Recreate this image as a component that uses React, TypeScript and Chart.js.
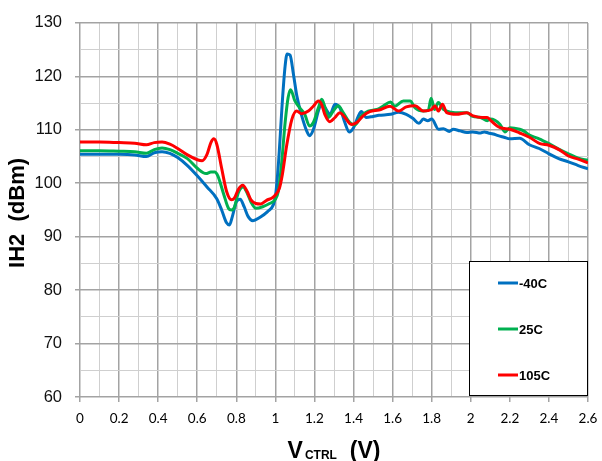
import React, { useEffect, useRef } from "react";
import { Chart, registerables } from "chart.js";

Chart.register(...registerables);

// ---- Data ----
const seriesLabels = ["-40C", "25C", "105C"];
const seriesColors = ["#0070C0", "#00B050", "#FF0000"];

const vctrlM40 = [0, 0.1, 0.2, 0.28, 0.34, 0.38, 0.42, 0.46, 0.5, 0.55, 0.6, 0.65, 0.7, 0.725, 0.75, 0.765, 0.78, 0.8, 0.82, 0.84, 0.86, 0.885, 0.92, 0.96, 0.99, 1.0, 1.01, 1.02, 1.035, 1.05, 1.06, 1.075, 1.092, 1.11, 1.135, 1.16, 1.175, 1.195, 1.22, 1.237, 1.255, 1.28, 1.305, 1.33, 1.355, 1.378, 1.4, 1.425, 1.44, 1.465, 1.5, 1.53, 1.59, 1.63, 1.67, 1.705, 1.735, 1.757, 1.78, 1.8, 1.835, 1.86, 1.89, 1.91, 1.945, 1.98, 2.01, 2.05, 2.07, 2.09, 2.115, 2.14, 2.17, 2.2, 2.25, 2.3, 2.35, 2.4, 2.45, 2.5, 2.55, 2.6];
const ih2M40 = [105.4, 105.4, 105.4, 105.3, 105.0, 105.7, 105.9, 105.6, 104.8, 103.3, 101.4, 99.3, 97.1, 95.0, 92.6, 92.2, 93.8, 96.5, 97.0, 95.6, 93.8, 93.0, 93.6, 94.7, 96.0, 97.5, 101.0, 106.0, 115.0, 122.0, 124.2, 124.0, 120.5, 116.3, 112.6, 109.8, 108.9, 110.1, 113.5, 115.0, 114.1, 112.9, 114.8, 114.1, 111.4, 109.6, 110.4, 112.6, 113.4, 112.3, 112.5, 112.7, 112.9, 113.3, 112.9, 112.1, 111.2, 112.0, 111.7, 112.0, 110.1, 110.2, 109.7, 110.1, 109.8, 109.5, 109.6, 109.4, 109.6, 109.4, 109.2, 108.9, 108.6, 108.3, 108.4, 107.2, 106.5, 105.5, 104.6, 104.0, 103.3, 102.7];

const vctrl25 = [0, 0.1, 0.2, 0.28, 0.34, 0.38, 0.42, 0.46, 0.5, 0.55, 0.6, 0.645, 0.67, 0.69, 0.705, 0.735, 0.76, 0.775, 0.79, 0.81, 0.835, 0.855, 0.875, 0.9, 0.935, 0.97, 1.0, 1.015, 1.03, 1.05, 1.065, 1.078, 1.1, 1.125, 1.15, 1.175, 1.195, 1.22, 1.237, 1.255, 1.272, 1.296, 1.322, 1.347, 1.38, 1.407, 1.44, 1.475, 1.52, 1.55, 1.59, 1.61, 1.655, 1.69, 1.715, 1.757, 1.783, 1.797, 1.815, 1.834, 1.86, 1.9, 1.945, 1.98, 2.01, 2.05, 2.085, 2.1, 2.15, 2.175, 2.2, 2.25, 2.27, 2.3, 2.35, 2.4, 2.455, 2.5, 2.55, 2.6];
const ih2_25 = [106.1, 106.1, 106.0, 105.9, 105.6, 106.3, 106.6, 106.3, 105.6, 104.6, 102.8, 101.8, 102.1, 102.1, 101.4, 98.0, 95.3, 95.0, 95.5, 98.2, 99.3, 98.2, 96.5, 95.3, 95.6, 96.2, 97.0, 98.5, 103.0, 111.4, 116.0, 117.5, 115.4, 114.1, 112.9, 110.7, 111.4, 114.1, 115.7, 114.1, 112.3, 113.5, 114.5, 113.2, 111.4, 110.9, 112.6, 113.5, 113.8, 114.4, 115.2, 114.4, 115.4, 115.4, 114.1, 113.5, 113.7, 115.9, 113.8, 115.1, 113.8, 113.3, 113.2, 113.2, 112.5, 112.3, 111.7, 112.0, 111.0, 109.6, 110.4, 110.1, 109.8, 109.0, 108.3, 107.4, 106.3, 105.5, 104.7, 104.3];

const vctrl105 = [0, 0.1, 0.2, 0.28, 0.34, 0.38, 0.42, 0.46, 0.5, 0.55, 0.6, 0.625, 0.65, 0.67, 0.685, 0.7, 0.725, 0.75, 0.775, 0.79, 0.81, 0.833, 0.855, 0.875, 0.9, 0.925, 0.955, 0.985, 1.0, 1.02, 1.035, 1.058, 1.084, 1.109, 1.134, 1.169, 1.194, 1.22, 1.236, 1.253, 1.279, 1.305, 1.33, 1.356, 1.388, 1.415, 1.449, 1.483, 1.53, 1.587, 1.63, 1.67, 1.715, 1.757, 1.8, 1.817, 1.834, 1.855, 1.877, 1.927, 1.98, 2.013, 2.06, 2.084, 2.1, 2.15, 2.2, 2.25, 2.3, 2.354, 2.4, 2.456, 2.5, 2.55, 2.6];
const ih2_105 = [107.7, 107.7, 107.6, 107.5, 107.2, 107.6, 107.7, 107.3, 106.5, 105.3, 104.4, 104.2, 105.4, 107.6, 108.3, 107.3, 102.8, 98.5, 96.9, 97.2, 98.8, 99.6, 98.5, 96.9, 96.2, 96.1, 96.8, 97.3, 97.8, 99.0, 101.5, 107.1, 111.9, 113.5, 113.0, 113.5, 114.4, 115.4, 114.8, 112.9, 111.5, 112.3, 113.2, 112.3, 111.0, 111.3, 112.6, 113.4, 113.7, 114.4, 113.5, 114.3, 114.5, 113.5, 113.8, 114.5, 113.5, 114.8, 113.2, 112.9, 113.2, 112.6, 112.3, 112.3, 111.8, 110.4, 110.1, 109.4, 108.6, 107.4, 107.1, 106.2, 105.1, 104.5, 103.8];

const xMin = 0;
const xMax = 2.6;
const yMin = 60;
const yMax = 130;
const xTitleMain = "V";
const xTitleSub = "CTRL";
const xTitleUnit = "  (V)";
const yTitle = "IH2  (dBm)";

const toPoints = (xs: number[], ys: number[]) => xs.map((x, i) => ({ x, y: ys[i] }));

const isMajorX = (v: number) => Math.round(v * 10) % 2 === 0;
const isMajorY = (v: number) => Math.round(v) % 10 === 0;

const annotationsPlugin = {
  id: "customDecor",
  afterDraw(chart: any) {
    const ctx = chart.ctx as CanvasRenderingContext2D;
    const area = chart.chartArea;
    ctx.save();
    // Legend box
    const bx = 469, by = 261, bw = area.right - 469, bh = area.bottom - 1 - 261;
    ctx.fillStyle = "#ffffff";
    ctx.fillRect(bx, by, bw, bh);
    ctx.strokeStyle = "#000000";
    ctx.lineWidth = 1;
    ctx.strokeRect(bx + 0.5, by + 0.5, bw - 1, bh - 1);
    const itemsY = [283, 329, 375];
    const ds = chart.data.datasets;
    const order = [0, 1, 2];
    order.forEach((di, k) => {
      const d = ds[di];
      ctx.strokeStyle = d.borderColor;
      ctx.lineWidth = 3;
      ctx.beginPath();
      ctx.moveTo(498, itemsY[k]);
      ctx.lineTo(518, itemsY[k]);
      ctx.stroke();
      ctx.fillStyle = "#000";
      ctx.font = "bold 13px 'Liberation Sans', Arial, sans-serif";
      ctx.textBaseline = "middle";
      ctx.textAlign = "left";
      ctx.fillText(d.label, 519, itemsY[k] + 1);
    });

    // Y title
    ctx.save();
    ctx.translate(18, (area.top + area.bottom) / 2 + 3);
    ctx.rotate(-Math.PI / 2);
    ctx.font = "bold 22px 'Liberation Sans', Arial, sans-serif";
    ctx.textAlign = "center";
    ctx.textBaseline = "middle";
    ctx.fillStyle = "#000";
    ctx.fillText(yTitle, 0, 0);
    ctx.restore();

    // X title with subscript
    const bigFont = "bold 23px 'Liberation Sans', Arial, sans-serif";
    const smallFont = "bold 12px 'Liberation Sans', Arial, sans-serif";
    ctx.font = bigFont;
    const wV = ctx.measureText(xTitleMain).width;
    const wU = ctx.measureText(xTitleUnit).width;
    ctx.font = smallFont;
    const wS = ctx.measureText(xTitleSub).width;
    const gap = 2;
    const total = wV + gap + wS + wU;
    const cx = (area.left + area.right) / 2;
    let x0 = cx - total / 2;
    const base = 458;
    ctx.textAlign = "left";
    ctx.textBaseline = "alphabetic";
    ctx.fillStyle = "#000";
    ctx.font = bigFont;
    ctx.fillText(xTitleMain, x0, base);
    x0 += wV + gap;
    ctx.font = smallFont;
    ctx.fillText(xTitleSub, x0, base + 1);
    x0 += wS;
    ctx.font = bigFont;
    ctx.fillText(xTitleUnit, x0, base);
    ctx.restore();
  },
};

export default function App() {
  const canvasRef = useRef<HTMLCanvasElement | null>(null);

  useEffect(() => {
    if (!canvasRef.current) return;
    const data = [
      toPoints(vctrlM40, ih2M40),
      toPoints(vctrl25, ih2_25),
      toPoints(vctrl105, ih2_105),
    ];
    const chart = new Chart(canvasRef.current, {
      type: "line",
      data: {
        datasets: data.map((pts, i) => ({
          label: seriesLabels[i],
          data: pts,
          borderColor: seriesColors[i],
          backgroundColor: seriesColors[i],
          borderWidth: 3,
          pointRadius: 0,
          fill: false,
          cubicInterpolationMode: "monotone" as const,
          order: 3 - i,
        })),
      },
      options: {
        responsive: false,
        maintainAspectRatio: false,
        animation: false,
        devicePixelRatio: 1,
        layout: { padding: { top: 15, right: 14, left: 0, bottom: 0 } },
        plugins: {
          legend: { display: false },
          tooltip: { enabled: false },
          title: { display: false },
        },
        scales: {
          x: {
            type: "linear",
            min: xMin,
            max: xMax,
            afterFit: (scale: any) => {
              scale.height = 64;
              scale.paddingRight = 0;
            },
            afterBuildTicks: (scale: any) => {
              const t = [];
              for (let i = 0; i <= 26; i++) t.push({ value: i / 10 });
              scale.ticks = t;
            },
            ticks: {
              autoSkip: false,
              maxRotation: 0,
              padding: 9,
              color: "#000",
              font: { family: "Lato, 'Liberation Sans', sans-serif", size: 13.5 },
              callback: (v: any) => (isMajorX(Number(v)) ? String(Math.round(Number(v) * 10) / 10) : ""),
            },
            grid: {
              color: (c: any) => (isMajorX(c.tick.value) ? "#a3a3a3" : "#cfcfcf"),
              lineWidth: (c: any) => (isMajorX(c.tick.value) ? 1.5 : 1),
              tickLength: 5,
              tickColor: (c: any) => (isMajorX(c.tick.value) ? "#a3a3a3" : "rgba(0,0,0,0)"),
            },
            border: { display: false },
          },
          y: {
            type: "linear",
            min: yMin,
            max: yMax,
            afterFit: (scale: any) => {
              scale.width = 80;
            },
            afterBuildTicks: (scale: any) => {
              const t = [];
              for (let v = yMin; v <= yMax; v += 5) t.push({ value: v });
              scale.ticks = t;
            },
            ticks: {
              autoSkip: false,
              padding: 13,
              color: "#111",
              font: { family: "'Liberation Sans', Arial, sans-serif", size: 16.5 },
              callback: (v: any) => (isMajorY(Number(v)) ? String(v) : ""),
            },
            grid: {
              color: (c: any) => (isMajorY(c.tick.value) ? "#a3a3a3" : "#cfcfcf"),
              lineWidth: (c: any) => (isMajorY(c.tick.value) ? 1.5 : 1),
              tickLength: 5,
              tickColor: (c: any) => (isMajorY(c.tick.value) ? "#a3a3a3" : "rgba(0,0,0,0)"),
            },
            border: { display: false },
          },
        },
      },
      plugins: [annotationsPlugin],
    });
    return () => chart.destroy();
  }, []);

  return (
    <div style={{ position: "fixed", left: 0, top: 0, width: 602, height: 461, background: "#fff" }}>
      <canvas ref={canvasRef} width={602} height={461} style={{ display: "block", width: 602, height: 461 }} />
    </div>
  );
}
